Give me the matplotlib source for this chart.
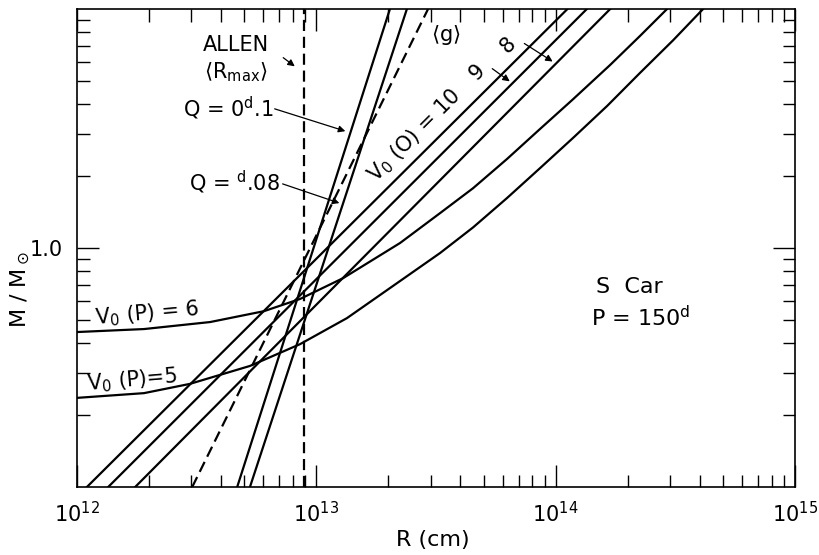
import matplotlib
matplotlib.use("Agg")
import matplotlib.pyplot as plt
from matplotlib.ticker import FixedLocator, NullFormatter

# mass range at the bottom and top edge of the frame
m_ends = [0.1, 10.0]

# V0(O) = 10, 9, 8 straight lines: R where they cross M=0.1 and M=10
r_v0o_10 = [1.10e12, 1.12e14]
r_v0o_9 = [1.35e12, 1.35e14]
r_v0o_8 = [1.75e12, 1.69e14]

# Q = 0.1 and 0.08 lines
r_q_10 = [4.67e12, 2.03e13]
r_q_08 = [5.28e12, 2.39e13]

# <g> dashed line
r_g = [3.03e12, 2.93e13]

# Allen <R_max>
r_allen = 8.9e12

# V0(P) = 6 curve
r_p6 = [1.0e12, 1.905e12, 3.60e12, 6.04e12, 8.55e12, 1.294e13, 2.24e13, 3.29e13,
        4.52e13, 6.27e13, 8.61e13, 1.172e14, 1.688e14, 2.25e14, 2.92e14]
m_p6 = [0.445, 0.458, 0.490, 0.544, 0.612, 0.748, 1.05, 1.40,
        1.78, 2.36, 3.15, 4.16, 5.83, 7.71, 10.0]

# V0(P) = 5 curve
r_p5 = [1.0e12, 1.905e12, 2.96e12, 5.28e12, 8.55e12, 1.343e13, 2.24e13, 3.29e13,
        4.52e13, 6.27e13, 8.61e13, 1.183e14, 1.641e14, 2.25e14, 3.10e14, 4.13e14]
m_p5 = [0.236, 0.247, 0.270, 0.321, 0.396, 0.509, 0.728, 0.953,
        1.22, 1.62, 2.16, 2.89, 3.93, 5.40, 7.41, 10.0]

x_major = [1e12, 1e13, 1e14, 1e15]
x_labels = ["$10^{12}$", "$10^{13}$", "$10^{14}$", "$10^{15}$"]

plt.rcParams['mathtext.default'] = 'regular'
plt.rcParams['font.family'] = ['DejaVu Sans']

W, H = 820, 555
fig = plt.figure(figsize=(W / 100, H / 100), dpi=100)
ax = fig.add_axes([77 / W, 1 - 487 / H, (795 - 77) / W, (487 - 9) / H])


def px(x, y):
    # pixel position in the picture -> figure fraction
    return (x / W, 1 - y / H)


lw = 1.6
dash = (5, 2.6)
for r in (r_v0o_10, r_v0o_9, r_v0o_8, r_q_10, r_q_08):
    ax.plot(r, m_ends, color='black', lw=lw)
ax.plot(r_g, m_ends, color='black', lw=lw, dashes=dash)
ax.axvline(r_allen, color='black', lw=lw, dashes=dash)
ax.plot(r_p6, m_p6, color='black', lw=lw, solid_joinstyle='round')
ax.plot(r_p5, m_p5, color='black', lw=lw, solid_joinstyle='round')

ax.set_xscale('log')
ax.set_yscale('log')
ax.set_xlim(1e12, 1e15)
ax.set_ylim(0.1, 10)

ax.xaxis.set_major_locator(FixedLocator(x_major))
ax.set_xticklabels(x_labels)
ax.xaxis.set_minor_locator(FixedLocator([k * 10.0 ** e for e in (12, 13, 14) for k in range(2, 10)]))
ax.xaxis.set_minor_formatter(NullFormatter())
ax.yaxis.set_major_locator(FixedLocator([1.0]))
ax.set_yticklabels(["1.0"])
ax.yaxis.set_minor_locator(FixedLocator([k * 10.0 ** e for e in (-1, 0) for k in range(2, 10)]))
ax.yaxis.set_minor_formatter(NullFormatter())
ax.tick_params(which='both', direction='in', top=True, right=True, width=1.0, labelsize=15)
ax.tick_params(which='major', length=16, pad=10)
ax.tick_params(which='minor', length=9)
for s in ax.spines.values():
    s.set_linewidth(1.2)

fig.text(*px(433, 540), "R (cm)", fontsize=16, ha='center', va='center')
fig.text(*px(20, 290), r"M / M$_\odot$", fontsize=16, ha='center', va='center', rotation=90)

fs = 15
fig.text(*px(236, 45), "ALLEN", fontsize=fs, ha='center', va='center')
fig.text(*px(236, 72), r"$\langle R_{max} \rangle$", fontsize=fs, ha='center', va='center')
fig.text(*px(228, 108), r"Q = 0$^d$.1", fontsize=fs, ha='center', va='center')
fig.text(*px(234, 182), r"Q = $^d$.08", fontsize=fs, ha='center', va='center')
fig.text(*px(415, 136), r"V$_0$ (O) = 10", fontsize=fs, ha='center', va='center', rotation=45)
fig.text(*px(477, 72), "9", fontsize=fs, ha='center', va='center', rotation=45)
fig.text(*px(508, 45), "8", fontsize=fs, ha='center', va='center', rotation=45)
fig.text(*px(446, 35), r"$\langle g \rangle$", fontsize=fs, ha='center', va='center')
fig.text(*px(147, 314), r"V$_0$ (P) = 6", fontsize=fs, ha='center', va='center', rotation=5)
fig.text(*px(132, 380), r"V$_0$ (P)=5", fontsize=fs, ha='center', va='center', rotation=5)
fig.text(*px(629, 287), "S  Car", fontsize=16, ha='center', va='center')
fig.text(*px(641, 318), r"P = 150$^d$", fontsize=16, ha='center', va='center')

arrows = [((281, 56), (297, 68)),
          ((272, 108), (348, 132)),
          ((280, 183), (342, 204)),
          ((490, 67), (512, 83)),
          ((522, 42), (555, 63))]
for start, end in arrows:
    fig.add_artist(matplotlib.patches.FancyArrowPatch(
        px(*start), px(*end), transform=fig.transFigure,
        arrowstyle='-|>', mutation_scale=10, lw=0.9, color='black'))

fig.savefig("out.png", dpi=100)
